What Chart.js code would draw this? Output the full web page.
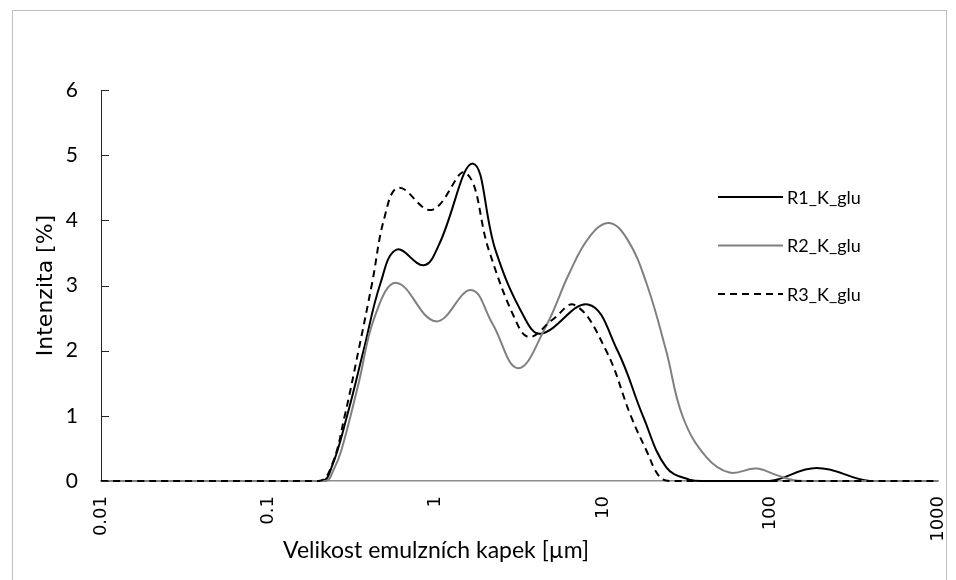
<!DOCTYPE html>
<html>
<head>
<meta charset="utf-8">
<script src="https://cdn.jsdelivr.net/npm/chart.js@4.4.1/dist/chart.umd.min.js"></script>
<style>
  html, body { margin: 0; padding: 0; background: #fff; }
  #wrap { position: relative; width: 956px; height: 580px; overflow: hidden; }
  #frame { position: absolute; left: 12px; top: 10px; width: 933px; height: 620px; border: 1px solid #bfbfbf; }
  #box { position: absolute; left: 0; top: 0; width: 956px; height: 580px; }
  #xTitle { position: absolute; left: 236px; width: 400px; top: 535px; text-align: center;
            font-family: Lato, sans-serif; font-size: 23px; color: #000; }
</style>
</head>
<body>
<div id="wrap">
  <div id="frame"></div>
  <div id="box"><canvas id="chart"></canvas></div>
  <div id="xTitle">Velikost emulzních kapek [µm]</div>
</div>
<script>
// tick labels of the log axis
const tickValues = [0.01, 0.1, 1, 10, 100, 1000];
const tickLabels = ['0.01', '0.1', '1', '10', '100', '1000'];
const seriesNames = ['R1_K_glu', 'R2_K_glu', 'R3_K_glu'];

// R1 - droplet size [um] / intensity [%]
const r1Sizes  = [0.01, 0.2075, 0.2393, 0.2944, 0.3707, 0.4667, 0.5834, 0.8472, 1.042, 1.667, 2.275, 3.365, 4.256, 8.128, 12.13, 17.38, 23.82, 32.73, 39.81, 98.6, 188.4, 391.7, 1000];
const r1Values = [0, 0, 0.22, 0.99, 2.01, 3.03, 3.55, 3.31, 3.62, 4.87, 3.54, 2.52, 2.26, 2.71, 2.01, 0.98, 0.21, 0.02, 0, 0, 0.2, 0, 0];

// R2
const r2Sizes  = [0.01, 0.2188, 0.2449, 0.2735, 0.3459, 0.4315, 0.5834, 1.0, 1.622, 2.173, 3.097, 4.56, 6.252, 8.24, 10.86, 14.0, 18.16, 23.71, 29.85, 41.21, 56.75, 82.04, 108.6, 135.5, 158.5, 1000];
const r2Values = [0, 0, 0.17, 0.48, 1.50, 2.52, 3.04, 2.45, 2.93, 2.42, 1.73, 2.38, 3.18, 3.74, 3.96, 3.70, 3.03, 2.01, 0.99, 0.37, 0.13, 0.19, 0.09, 0.015, 0, 0];

// R3
const r3Sizes  = [0.01, 0.1995, 0.2399, 0.2851, 0.3459, 0.4159, 0.4955, 0.5998, 0.9462, 1.507, 2.075, 2.931, 3.606, 4.955, 6.761, 10.37, 14.66, 18.03, 21.63, 25.12, 1000];
const r3Values = [0, 0, 0.25, 0.99, 2.01, 3.03, 4.06, 4.50, 4.16, 4.73, 3.54, 2.52, 2.21, 2.47, 2.70, 2.01, 0.99, 0.48, 0.07, 0, 0];

const toPoints = (xs, ys) => xs.map((x, i) => ({ x: x, y: ys[i] }));

// legend drawn inside the plot, right side
const sideLegend = {
  id: 'sideLegend',
  afterDatasetsDraw(chart) {
    const ctx = chart.ctx;
    chart.data.datasets.forEach((ds, i) => {
      const y = 197 + i * 48.5;
      ctx.save();
      ctx.strokeStyle = ds.borderColor;
      ctx.lineWidth = ds.borderWidth;
      ctx.setLineDash(ds.borderDash || []);
      ctx.beginPath();
      ctx.moveTo(718, y);
      ctx.lineTo(783, y);
      ctx.stroke();
      ctx.setLineDash([]);
      ctx.fillStyle = '#000';
      ctx.font = '18px Lato';
      ctx.textBaseline = 'middle';
      ctx.fillText(ds.label, 787, y + 1);
      ctx.restore();
    });
  }
};

// excel style "inside" tick marks on the value axis
const innerTicks = {
  id: 'innerTicks',
  afterDraw(chart) {
    const sy = chart.scales.y, ctx = chart.ctx;
    ctx.save();
    ctx.strokeStyle = '#262626';
    ctx.lineWidth = 1;
    sy.ticks.forEach(t => {
      const py = Math.round(sy.getPixelForValue(t.value)) + 0.5;
      ctx.beginPath();
      ctx.moveTo(sy.right, py);
      ctx.lineTo(sy.right + 8, py);
      ctx.stroke();
    });
    ctx.restore();
  }
};

new Chart(document.getElementById('chart'), {
  type: 'line',
  data: {
    datasets: [
      { label: seriesNames[0], data: toPoints(r1Sizes, r1Values), borderColor: '#000000', borderWidth: 2, order: 3 },
      { label: seriesNames[1], data: toPoints(r2Sizes, r2Values), borderColor: '#808080', borderWidth: 2, order: 2 },
      { label: seriesNames[2], data: toPoints(r3Sizes, r3Values), borderColor: '#000000', borderWidth: 2, borderDash: [7, 5], order: 1 }
    ]
  },
  options: {
    responsive: true,
    maintainAspectRatio: false,
    animation: false,
    devicePixelRatio: 1,
    layout: { padding: { top: 90, right: 18, left: 0, bottom: 0 } },
    elements: {
      point: { radius: 0 },
      line: { tension: 0.4, fill: false }
    },
    datasets: { line: { clip: 6 } },
    plugins: { legend: { display: false }, tooltip: { enabled: false } },
    scales: {
      x: {
        type: 'logarithmic',
        min: 0.01,
        max: 1000,
        afterBuildTicks: s => { s.ticks = tickValues.map(v => ({ value: v })); },
        afterFit: s => { s.height = 99; s.paddingLeft = 0; s.paddingRight = 0; },
        ticks: {
          autoSkip: false,
          minRotation: 90,
          maxRotation: 90,
          padding: 15,
          color: '#000',
          font: { family: 'DejaVu Sans', size: 18 },
          callback: (v, i) => tickLabels[i]
        },
        grid: { display: true, drawOnChartArea: false, drawTicks: false },
        border: { color: '#8c8c8c', width: 1.5 }
      },
      y: {
        min: 0,
        max: 6,
        afterFit: s => { s.width = 101; },
        ticks: {
          stepSize: 1,
          padding: 23,
          color: '#000',
          font: { family: 'Lato', size: 21 }
        },
        grid: { display: true, drawOnChartArea: false, drawTicks: false },
        border: { color: '#262626', width: 1 },
        title: {
          display: true,
          text: 'Intenzita [%]',
          color: '#000',
          font: { family: 'DejaVu Sans', size: 22 },
          padding: { top: 33, bottom: 0 }
        }
      }
    }
  },
  plugins: [sideLegend, innerTicks]
});
</script>
</body>
</html>
